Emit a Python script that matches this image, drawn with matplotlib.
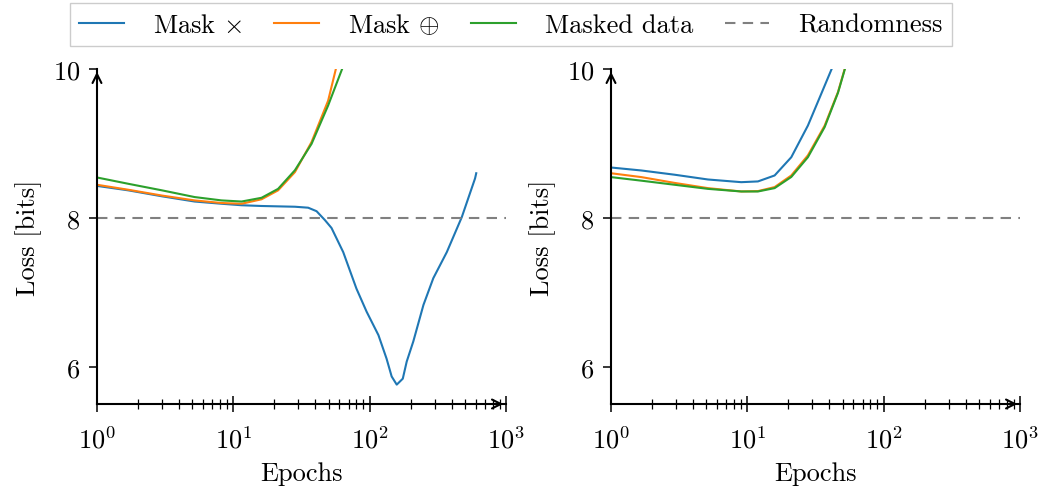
import numpy as np
import matplotlib
matplotlib.use("Agg")
import matplotlib.pyplot as plt
from matplotlib.ticker import LogLocator, NullFormatter, FixedLocator

plt.rcParams['font.family'] = 'serif'
plt.rcParams['font.serif'] = ['cmr10']
plt.rcParams['mathtext.fontset'] = 'cm'
plt.rcParams['axes.formatter.use_mathtext'] = True
plt.rcParams['font.size'] = 19

# Linkes Diagramm
x_mult_l = [1.0, 1.7, 3.0, 5.2, 8.2, 11.5, 16.1, 21.3, 28.3, 35.4, 40.8, 47, 52.5, 64,
            80, 95, 116, 133, 145, 158, 175, 187, 209, 248, 293, 368, 474, 593, 605]
y_mult_l = [8.43, 8.37, 8.29, 8.22, 8.19, 8.17, 8.16, 8.155, 8.15, 8.137, 8.09, 7.97,
            7.865, 7.54, 7.05, 6.74, 6.425, 6.11, 5.87, 5.76, 5.84, 6.07, 6.34, 6.83,
            7.19, 7.54, 8.01, 8.53, 8.60]
x_xor_l = [1.0, 1.7, 3.0, 5.2, 8.2, 11.5, 16.1, 21.3, 28.3, 37.5, 49.6, 57.2, 62]
y_xor_l = [8.445, 8.378, 8.30, 8.235, 8.20, 8.19, 8.25, 8.37, 8.615, 9.02, 9.575,
           10.04, 10.3]
x_data_l = [1.0, 1.7, 3.0, 5.2, 8.2, 11.5, 16.1, 21.3, 28.3, 37.5, 49.6, 64, 70]
y_data_l = [8.543, 8.458, 8.37, 8.28, 8.235, 8.22, 8.27, 8.39, 8.64, 8.995, 9.51,
            10.04, 10.3]

# Rechtes Diagramm
x_mult_r = [1.0, 1.67, 2.93, 5.14, 9.02, 11.96, 15.85, 21, 27.8, 34.8, 42.4, 46]
y_mult_r = [8.677, 8.637, 8.58, 8.516, 8.48, 8.49, 8.57, 8.815, 9.24, 9.665, 10.04, 10.3]
x_xor_r = [1.0, 1.67, 2.93, 5.14, 9.02, 11.96, 15.85, 21, 27.8, 36.9, 46.2, 52.5, 57]
y_xor_r = [8.60, 8.548, 8.47, 8.40, 8.355, 8.36, 8.414, 8.57, 8.84, 9.24, 9.69,
           10.04, 10.3]
x_data_r = [1.0, 1.67, 2.93, 5.14, 9.02, 11.96, 15.85, 21, 27.8, 36.9, 46.2, 52.5, 57]
y_data_r = [8.548, 8.50, 8.445, 8.39, 8.355, 8.355, 8.40, 8.55, 8.815, 9.22, 9.68,
            10.03, 10.3]

zufall = 8.0
etiketten = [r'Mask $\times$', r'Mask $\oplus$', 'Masked data', 'Randomness']

fig = plt.figure(figsize=(10.45, 4.89), dpi=100)
ax1 = fig.add_axes([0.0928, 0.1718, 0.3914, 0.685])
ax2 = fig.add_axes([0.5847, 0.1718, 0.3914, 0.685])

panels = [
    (ax1, (x_mult_l, y_mult_l), (x_xor_l, y_xor_l), (x_data_l, y_data_l)),
    (ax2, (x_mult_r, y_mult_r), (x_xor_r, y_xor_r), (x_data_r, y_data_r)),
]

for ax, m, o, d in panels:
    l1, = ax.plot(m[0], m[1], color='#1f77b4', lw=1.5)
    l2, = ax.plot(o[0], o[1], color='#ff7f0e', lw=1.5)
    l3, = ax.plot(d[0], d[1], color='#2ca02c', lw=1.5)
    l4 = ax.axhline(zufall, color='gray', lw=1.5, ls=(0, (5, 3.5)))
    ax.set_xscale('log')
    ax.set_xlim(1, 1000)
    ax.set_ylim(5.5, 10)
    ax.set_yticks([6, 8, 10])
    ax.xaxis.set_major_locator(FixedLocator([1, 10, 100, 1000]))
    ax.xaxis.set_minor_locator(LogLocator(base=10, subs=np.arange(2, 10)))
    ax.xaxis.set_minor_formatter(NullFormatter())
    ax.spines['top'].set_visible(False)
    ax.spines['right'].set_visible(False)
    ax.spines['left'].set_linewidth(1.5)
    ax.spines['bottom'].set_linewidth(1.5)
    ax.tick_params(axis='x', which='major', direction='inout', length=11, width=1.1, pad=10)
    ax.tick_params(axis='x', which='minor', direction='inout', length=7, width=0.9)
    ax.tick_params(axis='y', which='major', direction='out', length=6, width=1.1, pad=6)
    # Pfeile an den Achsenenden
    ax.annotate('', xy=(1.0, 0), xytext=(0.96, 0), xycoords='axes fraction',
                arrowprops=dict(arrowstyle='->', lw=1.5, color='black', mutation_scale=16))
    ax.annotate('', xy=(0, 1.0), xytext=(0, 0.96), xycoords='axes fraction',
                arrowprops=dict(arrowstyle='->', lw=1.5, color='black', mutation_scale=16))
    ax.set_xlabel('Epochs', labelpad=6)
    ax.set_ylabel('Loss [bits]', labelpad=8)

fig.legend([l1, l2, l3, l4], etiketten, loc='upper center', bbox_to_anchor=(0.489, 1.0),
           ncol=4, frameon=True, fancybox=False, edgecolor='#cccccc', framealpha=1,
           handlelength=1.7, handletextpad=1.1, columnspacing=1.2, borderpad=0.35,
           borderaxespad=0.15, fontsize=19)

fig.savefig('out.png', dpi=100)
